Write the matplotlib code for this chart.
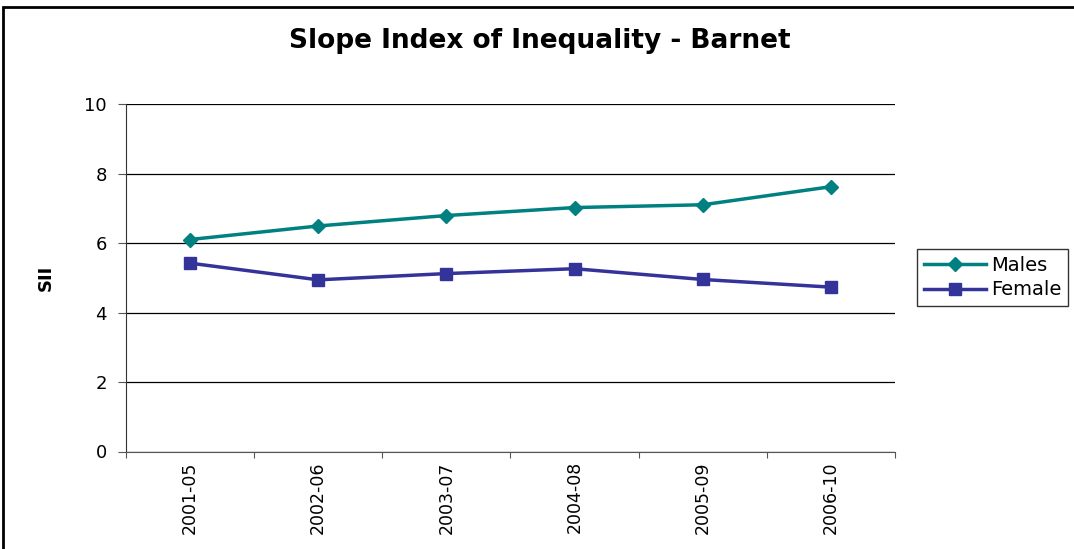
import matplotlib
matplotlib.use("Agg")
import matplotlib.pyplot as plt
from matplotlib.patches import Rectangle

plt.rcParams['font.family'] = ['DejaVu Sans']

periods = ["2001-05", "2002-06", "2003-07", "2004-08", "2005-09", "2006-10"]
males = [6.10, 6.49, 6.79, 7.02, 7.10, 7.62]
female = [5.42, 4.94, 5.12, 5.26, 4.95, 4.73]

fig = plt.figure(figsize=(10.74, 5.49), dpi=100)
fig.patch.set_facecolor("white")

# outer chart frame
fig.patches.append(Rectangle((3 / 1074, -0.05), 1.2, (549 - 7) / 549 + 0.05,
                             transform=fig.transFigure, fill=False,
                             edgecolor="black", linewidth=2.0))

ax = fig.add_axes([126 / 1074, (549 - 451.5) / 549, (895 - 126) / 1074, (451.5 - 104) / 549])
x = list(range(len(periods)))
ax.plot(x, males, color="#008080", marker="D", markersize=7.5, linewidth=2.5, label="Males")
ax.plot(x, female, color="#333399", marker="s", markersize=8, linewidth=2.5, label="Female")

ax.set_xlim(-0.5, len(periods) - 0.5)
ax.set_ylim(0, 10)
ax.set_yticks([0, 2, 4, 6, 8, 10])
ax.yaxis.grid(True, color="black", linewidth=0.9)
ax.set_axisbelow(True)

# category boundaries carry the tick marks, labels sit between them
ax.set_xticks([i + 0.5 for i in range(-1, len(periods))])
ax.set_xticklabels([])
ax.set_xticks(x, minor=True)
ax.set_xticklabels(periods, minor=True, rotation=90, fontsize=12.5)
ax.tick_params(axis="x", which="minor", length=0, pad=7)
ax.tick_params(axis="x", which="major", length=4.3, direction="out", color="#555555")
ax.tick_params(axis="y", length=5.8, direction="out", labelsize=13, pad=8, color="#555555")

for s in ["top", "right"]:
    ax.spines[s].set_visible(False)
ax.spines["left"].set_color("#333333")
ax.spines["bottom"].set_color("#555555")

ax.set_ylabel("SII", fontsize=13, fontweight="bold", labelpad=21)

fig.text(540 / 1074, 1 - 41 / 549, "Slope Index of Inequality - Barnet",
         ha="center", va="center", fontsize=19, fontweight="bold")

leg = ax.legend(loc="center left", bbox_to_anchor=(917 / 1074, 1 - 277.5 / 549),
                bbox_transform=fig.transFigure, frameon=True, fancybox=False,
                fontsize=14, handlelength=3.2, handletextpad=0.25,
                borderpad=0.35, labelspacing=0.3, borderaxespad=0)
leg.get_frame().set_edgecolor("black")
leg.get_frame().set_linewidth(1.0)

fig.savefig("out.png", dpi=100, facecolor="white")
